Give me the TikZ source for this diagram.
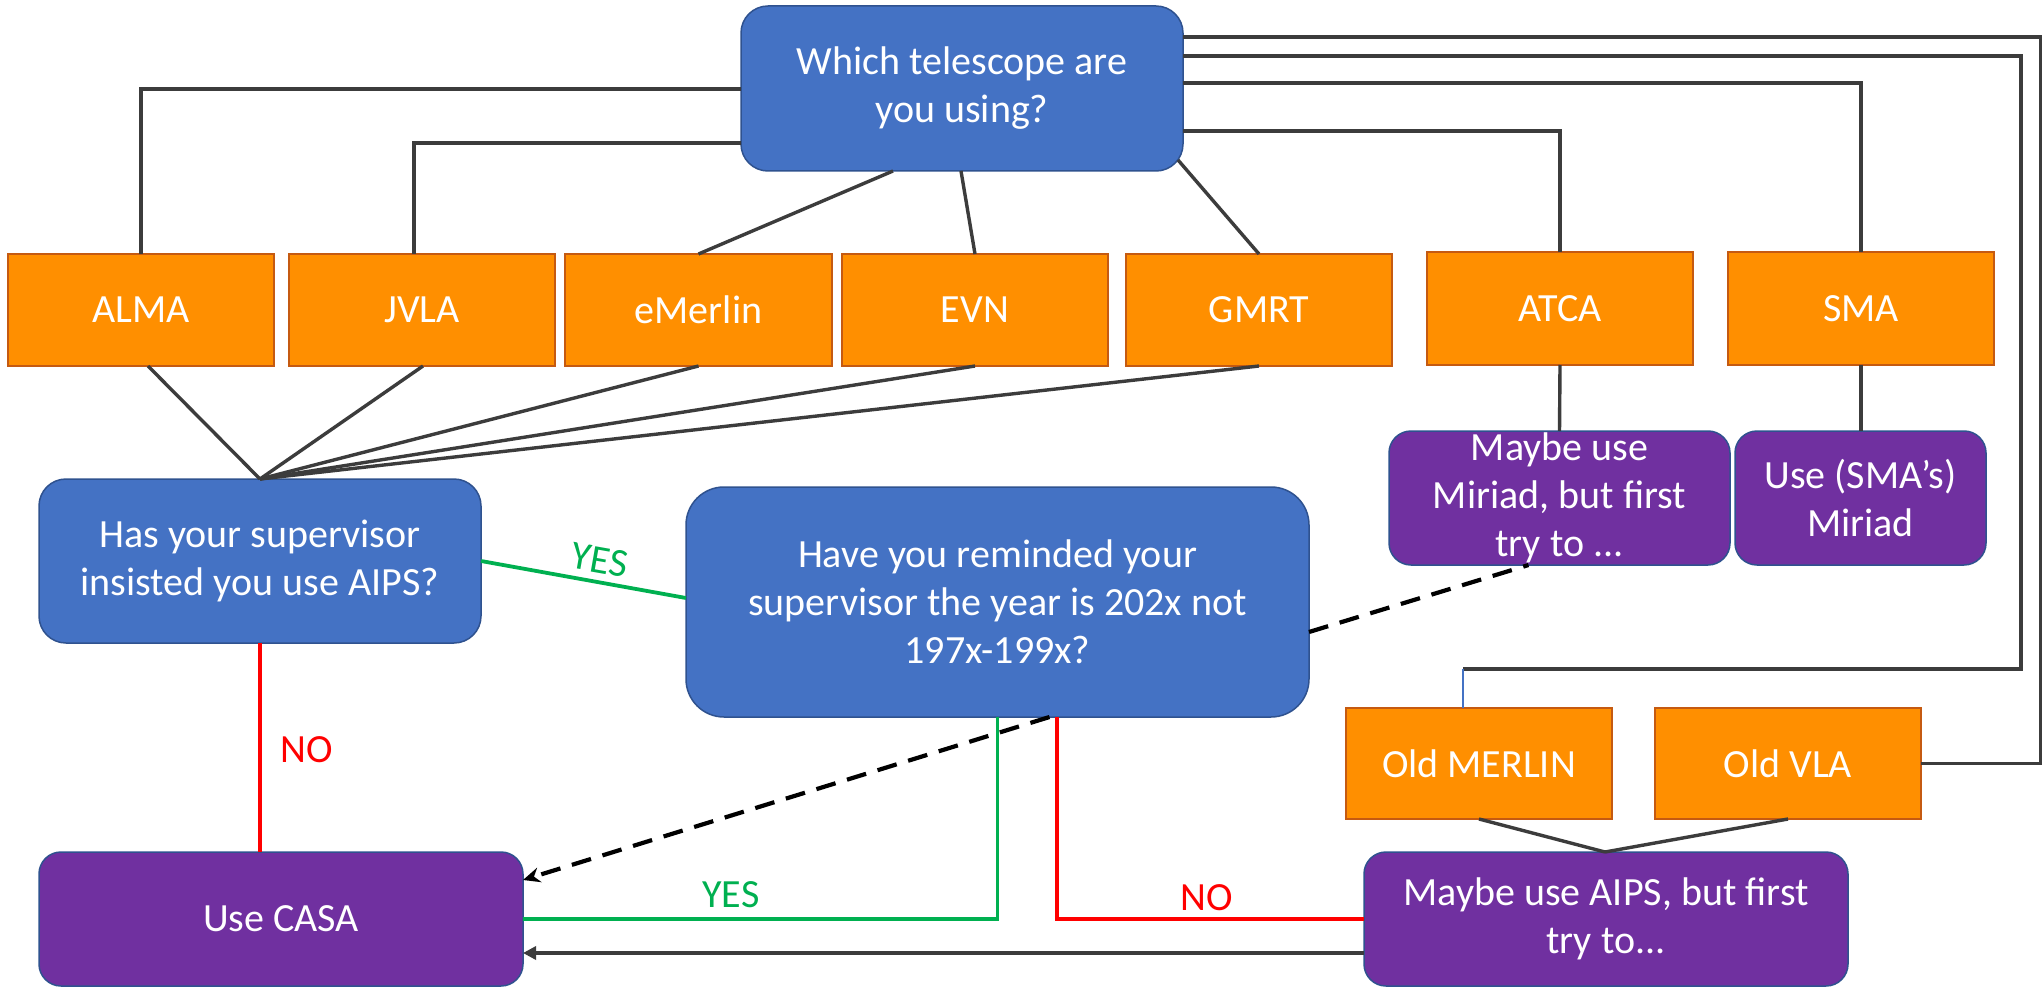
\documentclass[tikz,border=0pt]{standalone}
\usepackage{fontspec}
\setmainfont{Carlito}
\usetikzlibrary{arrows.meta}
\definecolor{boxblue}{RGB}{68,114,196}
\definecolor{edgeblue}{RGB}{47,82,143}
\definecolor{boxpurple}{RGB}{112,48,160}
\definecolor{boxorange}{RGB}{255,143,0}
\definecolor{edgeorange}{RGB}{197,90,17}
\definecolor{conngray}{RGB}{60,60,60}
\definecolor{yesgreen}{RGB}{0,176,80}
\definecolor{nored}{RGB}{255,0,0}
\definecolor{linkblue}{RGB}{68,114,196}
\begin{document}
\begin{tikzpicture}[x=1pt,y=-1pt,
  every node/.style={inner sep=0pt, outer sep=0pt, font=\fontsize{40}{48}\selectfont, align=center},
  tel/.style={rectangle, fill=boxorange, draw=edgeorange, line width=1.5pt, text=white, minimum width=266pt, minimum height=112pt},
  question/.style={rectangle, fill=boxblue, draw=edgeblue, line width=1.5pt, text=white},
  answer/.style={rectangle, fill=boxpurple, draw=edgeblue, line width=1.5pt, text=white},
  conn/.style={draw=conngray, line width=3.4pt},
  yesline/.style={draw=yesgreen, line width=3.8pt},
  noline/.style={draw=nored, line width=3.4pt},
  hint/.style={draw=black, line width=4.2pt, dash pattern=on 20pt off 12pt},
  yeslabel/.style={text=yesgreen},
  nolabel/.style={text=nored}
]
\fill[white] (0,0) rectangle (2042,987);
\useasboundingbox (0,0) rectangle (2042,987);

% question boxes
\node[question, rounded corners=27pt, minimum width=442pt, minimum height=165pt] (top) at (962,88.5) {Which telescope are\\you using?};
\node[question, rounded corners=27pt, minimum width=442pt, minimum height=164pt] (has) at (260,561) {Has your supervisor\\insisted you use AIPS?};
\node[question, rounded corners=38pt, minimum width=623pt, minimum height=230pt] (remind) at (997.5,602) {Have you reminded your\\supervisor the year is 202x not\\197x-199x?};

% telescopes
\node[tel] (alma) at (141,310) {ALMA};
\node[tel] (jvla) at (422,310) {JVLA};
\node[tel, minimum width=267pt] (emerlin) at (698.5,310) {eMerlin};
\node[tel] (evn) at (975,310) {EVN};
\node[tel] (gmrt) at (1259,310) {GMRT};
\node[tel, minimum height=113pt] (atca) at (1560,308.5) {ATCA};
\node[tel, minimum height=113pt] (sma) at (1861,308.5) {SMA};
\node[tel, minimum height=111pt] (oldmerlin) at (1479,763.5) {Old MERLIN};
\node[tel, minimum height=111pt] (oldvla) at (1788,763.5) {Old VLA};

% answers
\node[answer, rounded corners=22pt, minimum width=341pt, minimum height=134pt] (miriad) at (1559.5,498) {Maybe use\\Miriad, but first\\try to ...};
\node[answer, rounded corners=22pt, minimum width=251pt, minimum height=134pt] (smamiriad) at (1860.5,498) {Use (SMA’s)\\Miriad};
\node[answer, rounded corners=22pt, minimum width=484pt, minimum height=134pt] (casa) at (281,919) {Use CASA};
\node[answer, rounded corners=22pt, minimum width=484pt, minimum height=134pt] (aips) at (1606,919) {Maybe use AIPS, but first\\try to...};

% top box to telescopes
\draw[conn] (top.west |- 0,89) -| (alma.north);
\draw[conn] (top.west |- 0,143) -| ([xshift=-8pt]jvla.north);
\draw[conn] ([xshift=-69pt]top.south) -- (emerlin.north);
\draw[conn] ([xshift=-1pt]top.south) -- (evn.north);
\draw[conn] ([xshift=-5pt,yshift=11pt]top.south east) -- (gmrt.north);
\draw[conn] (top.east |- 0,131) -| (atca.north);
\draw[conn] (top.east |- 0,83) -| (sma.north);
\coordinate (mcorner) at (1463,669);
\draw[conn] (top.east |- 0,56) -| (2021,669) -- (mcorner);
\draw[draw=linkblue, line width=2.8pt] (mcorner) -- (mcorner |- oldmerlin.north);
\draw[conn] (top.east |- 0,37) -| (oldvla.east -| 2041,0) -- (oldvla.east);

% telescopes to has
\draw[conn] ([xshift=7pt]alma.south) -- (has.north);
\draw[conn] ([xshift=1pt]jvla.south) -- (has.north);
\draw[conn] (emerlin.south) -- (has.north);
\draw[conn] (evn.south) -- (has.north);
\draw[conn] (gmrt.south) -- (has.north);

% telescopes to answers
\draw[conn] (atca.south) -- (miriad.north);
\draw[conn] (sma.south) -- (sma.south |- smamiriad.north);
\draw[conn] (oldmerlin.south) -- ([xshift=-1pt]aips.north);
\draw[conn] (oldvla.south) -- ([xshift=-1pt]aips.north);

% decisions
\draw[yesline] (has.east) -- (remind.west |- 0,598);
\node[yeslabel, rotate=-10] (yes1) at (600,560) {YES};
\draw[noline] (has.south) -- (has.south |- casa.north);
\node[nolabel] (no1) at (307,750) {NO};
\draw[yesline] (remind.south) |- (casa.east);
\node[yeslabel] (yes2) at (731,895) {YES};
\draw[noline] ([xshift=59.5pt]remind.south) |- (aips.west);
\node[nolabel] (no2) at (1207,898) {NO};
\draw[conn, -{Triangle[length=13pt,width=13pt]}] (aips.west |- 0,953) -- (casa.east |- 0,953);

% dashed hints
\draw[hint] (remind.east |- 0,632) -- ([xshift=-31pt]miriad.south);
\draw[hint, -{Stealth[length=17pt,width=15pt]}] ([xshift=52pt]remind.south) -- (casa.east |- 0,880);
\end{tikzpicture}
\end{document}
